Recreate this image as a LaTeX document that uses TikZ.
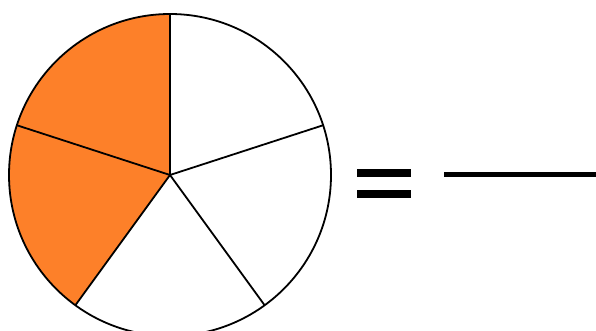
\documentclass[tikz,border=0pt]{standalone}
\definecolor{pieorange}{RGB}{253,128,41}
\begin{document}
\begin{tikzpicture}[x=1pt,y=-1pt,
  slice/.style={draw=black,line width=1.8pt,line join=round},
  bar/.style={fill=black,draw=none}]
\useasboundingbox (0,0) rectangle (596,331);
\begin{scope}
\clip (0,0) rectangle (596,331);
\coordinate (c) at (170,175);
\def\R{161}
% orange slices
\fill[pieorange] (c) -- ++(90:-\R) arc[start angle=-90,end angle=-234,radius=\R] -- cycle;
% outer circle
\draw[slice] (c) circle[radius=\R];
% radial lines (y axis inverted, so use negated angles)
\foreach \a in {90,18,-54,-126,162}{
  \draw[slice] (c) -- ++({cos(\a)*\R},{-sin(\a)*\R});
}
\end{scope}
% equals sign
\fill[bar] (357,169) rectangle (411,177);
\fill[bar] (357,189.5) rectangle (411,198);
% fraction bar
\fill[bar] (443.5,171.5) rectangle (596,177);
\end{tikzpicture}
\end{document}
